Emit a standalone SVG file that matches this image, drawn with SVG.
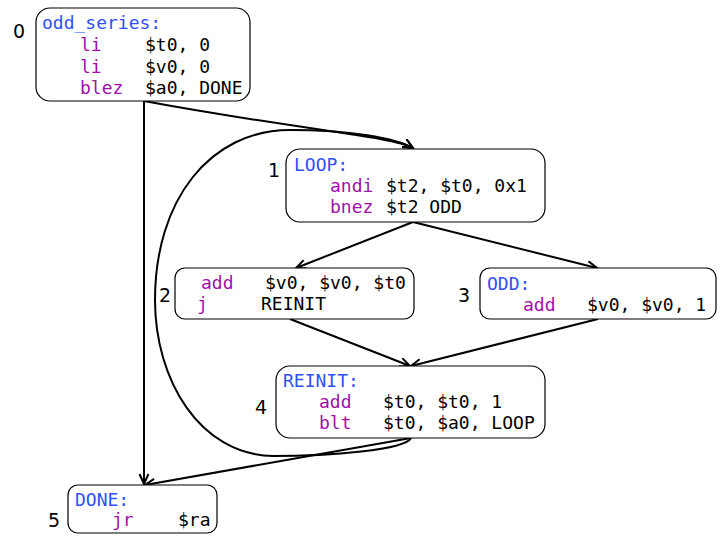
<svg xmlns="http://www.w3.org/2000/svg" width="720" height="540" viewBox="0 0 720 540">
<defs>
<style>
.box{fill:#fff;stroke:#000;stroke-width:1.2}
.t{font-family:"DejaVu Sans Mono","Liberation Mono",monospace;font-size:18px;fill:#000}
.lb{fill:#3050f8}
.op{fill:#a010a8}
.num{font-family:"DejaVu Sans","Liberation Sans",sans-serif;font-size:19px;fill:#000}
.e{fill:none;stroke:#000;stroke-width:2}
</style>
<marker id="arr" markerUnits="userSpaceOnUse" markerWidth="14" markerHeight="12" refX="11" refY="5" orient="auto">
<path d="M1,0.5 L11,5 L1,9.5" fill="none" stroke="#000" stroke-width="2"/>
</marker>
</defs>
<rect width="720" height="540" fill="#fff"/>
<g id="edges">
<path class="e" d="M144,101 L144,484" marker-end="url(#arr)"/>
<path class="e" d="M144,101 C300,130 392,136 413,148" marker-end="url(#arr)"/>
<path class="e" d="M411,438 C405,450 330,456 273,456 C200,455 155,380 155,300 C155,200 210,130 290,130 C350,130 395,138 413,148" marker-end="url(#arr)"/>
<path class="e" d="M411,438 L145,485" marker-end="url(#arr)"/>
<path class="e" d="M413,222 L296,268" marker-end="url(#arr)"/>
<path class="e" d="M413,222 L597,268" marker-end="url(#arr)"/>
<path class="e" d="M290,319 L410,366" marker-end="url(#arr)"/>
<path class="e" d="M598,319 L411,366" marker-end="url(#arr)"/>
</g>
<g id="n0">
<rect class="box" x="36" y="8" width="214" height="93" rx="14"/>
<text class="num" x="13" y="38">0</text>
<text class="t lb" x="42" y="29">odd_series:</text>
<text class="t op" x="80" y="51">li</text><text class="t" x="145" y="51">$t0, 0</text>
<text class="t op" x="80" y="73">li</text><text class="t" x="145" y="73">$v0, 0</text>
<text class="t op" x="80" y="94">blez</text><text class="t" x="145" y="94">$a0, DONE</text>
</g>
<g id="n1">
<rect class="box" x="286" y="149" width="259" height="73" rx="14"/>
<text class="num" x="268" y="177">1</text>
<text class="t lb" x="294" y="171">LOOP:</text>
<text class="t op" x="330" y="192">andi</text><text class="t" x="386" y="192">$t2, $t0, 0x1</text>
<text class="t op" x="330" y="213">bnez</text><text class="t" x="386" y="213">$t2 ODD</text>
</g>
<g id="n2">
<rect class="box" x="175" y="268" width="239" height="51" rx="10"/>
<text class="num" x="159" y="302">2</text>
<text class="t op" x="201" y="289">add</text><text class="t" x="265" y="289">$v0, $v0, $t0</text>
<text class="t op" x="197" y="310">j</text><text class="t" x="261" y="310">REINIT</text>
</g>
<g id="n3">
<rect class="box" x="480" y="268" width="236" height="51" rx="10"/>
<text class="num" x="458" y="302">3</text>
<text class="t lb" x="487" y="290">ODD:</text>
<text class="t op" x="523" y="311">add</text><text class="t" x="587" y="311">$v0, $v0, 1</text>
</g>
<g id="n4">
<rect class="box" x="276" y="366" width="269" height="72" rx="14"/>
<text class="num" x="255" y="414">4</text>
<text class="t lb" x="283" y="387">REINIT:</text>
<text class="t op" x="319" y="408">add</text><text class="t" x="383" y="408">$t0, $t0, 1</text>
<text class="t op" x="319" y="429">blt</text><text class="t" x="383" y="429">$t0, $a0, LOOP</text>
</g>
<g id="n5">
<rect class="box" x="68" y="485" width="149" height="48" rx="10"/>
<text class="num" x="48" y="527">5</text>
<text class="t lb" x="75" y="506">DONE:</text>
<text class="t op" x="112" y="526">jr</text><text class="t" x="178" y="526">$ra</text>
</g>
</svg>
